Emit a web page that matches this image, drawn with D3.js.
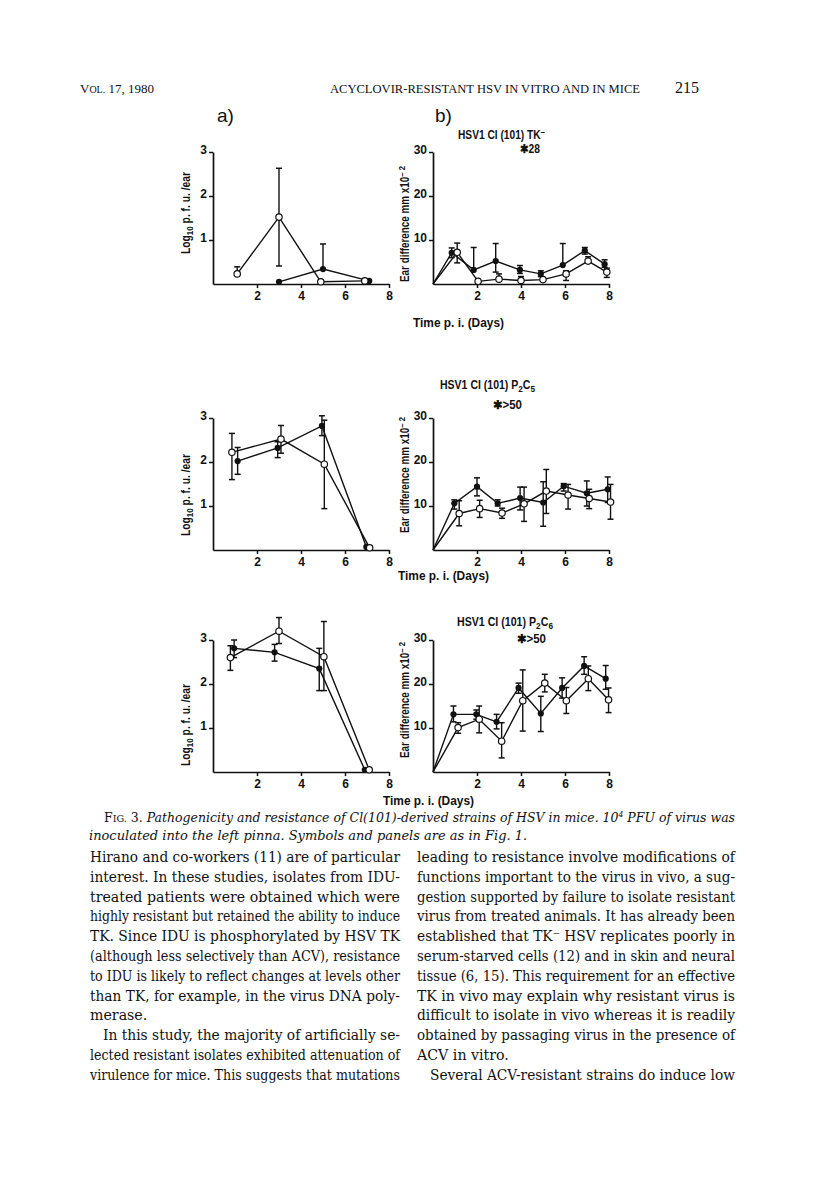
<!DOCTYPE html>
<html>
<head>
<meta charset="utf-8">
<script src="https://cdn.jsdelivr.net/npm/d3@7/dist/d3.min.js"></script>
<style>
  body { margin: 0; background: #fff; }
  svg { display: block; }
  .chart text { font-family: "Liberation Sans", Arial, sans-serif; font-weight: bold; fill: #111; }
  .serif { font-family: "DejaVu Serif", "Liberation Serif", serif; fill: #111; }
  .times { font-family: "Liberation Serif", "DejaVu Serif", serif; fill: #111; }
</style>
</head>
<body>
<div id="page"></div>
<script>
// tick labels
const dayTicks = [2, 4, 6, 8];
const logTicks = [1, 2, 3];
const earTicks = [10, 20, 30];

// [day, value, lower error, upper error]  (null = no whisker)
// a) virus titre, log10 p.f.u./ear
const a1Open   = [[1.1, 0.23, null, 0.39], [3.0, 1.52, 0.41, 2.63], [4.9, 0.05, null, null], [6.9, 0.07, null, null]];
const a1Filled = [[3.0, 0.05, null, null], [5.0, 0.34, null, 0.91], [7.1, 0.07, null, null]];
const a2Open   = [[0.86, 2.22, 1.6, 2.65], [3.09, 2.52, 2.2, 2.83], [5.06, 1.95, 0.94, 2.95], [7.12, 0.05, null, null]];
const a2Filled = [[1.12, 2.02, 1.72, 2.33], [2.94, 2.32, 2.1, 2.46], [4.95, 2.82, 2.6, 3.05], [6.97, 0.07, null, null]];
const a3Open   = [[0.79, 2.6, 2.31, 2.87], [3.0, 3.2, 2.92, 3.51], [5.04, 2.62, 1.85, 3.42], [7.1, 0.05, null, null]];
const a3Filled = [[0.96, 2.81, 2.6, 3.0], [2.8, 2.72, 2.52, 2.9], [4.83, 2.35, 1.85, 2.81], [6.9, 0.05, null, null]];

// b) ear difference, mm x 10^-2
const b1Filled = [[0, 0, null, null], [0.85, 7.1, 6.0, 8.2], [1.85, 3.2, null, 8.3], [2.85, 5.2, 2.7, 9.2], [3.95, 3.2, 2.4, 4.2],
                  [4.9, 2.3, 1.7, 3.0], [5.9, 4.3, null, 9.2], [6.9, 7.6, 6.8, 8.3], [7.8, 4.5, 3.8, 5.5]];
const b1Open   = [[0, 0, null, null], [1.1, 7.2, 4.8, 9.3], [2.05, 0.6, null, null], [3.0, 1.1, null, 2.3], [4.0, 0.8, null, 1.7],
                  [5.0, 1.0, null, null], [6.05, 2.3, 0.8, 3.0], [7.05, 5.2, null, 6.2], [7.9, 2.7, 1.5, 3.6]];
const b2Filled = [[0, 0, null, null], [0.97, 10.6, 9.3, 11.4], [2.0, 14.4, 12.3, 16.4], [2.94, 10.6, 10, 11.4], [3.96, 11.8, 9.1, 14.3],
                  [5.01, 10.8, 5.4, 15.5], [5.94, 14.5, 13.4, 15.1], [6.99, 12.9, 10, 15.7], [7.94, 13.8, 10.8, 16.6]];
const b2Open   = [[0, 0, null, null], [1.19, 8.3, 5.5, 11.2], [2.12, 9.4, 7.4, 11.3], [3.14, 8.4, 7.2, 9.5], [4.14, 10.5, 6.5, 14.3],
                  [5.15, 13.4, 8.3, 18.3], [6.14, 12.5, 9.3, 14.9], [7.1, 11.7, 9.4, 13.8], [8.07, 10.9, 7, 14.9]];
const b3Filled = [[0, 0, null, null], [0.93, 13.1, 11.4, 15], [1.97, 13.1, 12, 14.1], [2.89, 11.4, 9.8, 13.1], [3.89, 19.1, 17.9, 20.2],
                  [4.9, 13.3, 9.2, 17.2], [5.87, 19.1, 16.8, 21.4], [6.87, 24.1, 22.2, 26.2], [7.85, 21.2, 18.8, 24.2]];
const b3Open   = [[0, 0, null, null], [1.14, 10.1, 8.8, 11.2], [2.1, 12, 8.9, 15], [3.12, 7, 3.2, 11.2], [4.08, 16.2, 9.3, 23.2],
                  [5.08, 20.2, 18.2, 22.2], [6.06, 16.2, 13.3, 19.2], [7.06, 21.2, 18.5, 24.1], [7.98, 16.4, 13.5, 19.1]];

// strain titles and mortality notes ([text, 0 normal / 1 subscript / -1 superscript])
const strainTitles = [
  [["HSV1 CI (101) TK", 0], ["\u2013", -1]],
  [["HSV1 CI (101) P", 0], ["2", 1], ["C", 0], ["5", 1]],
  [["HSV1 CI (101) P", 0], ["2", 1], ["C", 0], ["6", 1]]
];
const mortality = ["28", ">50", ">50"];

const width = 816, height = 1204;
const svg = d3.select("#page").append("svg").attr("width", width).attr("height", height);
const chart = svg.append("g").attr("class", "chart");

const pw = 176, ph = 132;
const rowBase = [284, 550, 772];
const colA = 213, colB = 433;

// per row: title, mortality note and time label placement
const rowLayout = [
  { tx: 458, ty: 139, tw: 87, sx: 520, sy: 153, sw: 20, timeX: 413, timeY: 327 },
  { tx: 440, ty: 389, tw: 95, sx: 493, sy: 409, sw: 29, timeX: 398, timeY: 580 },
  { tx: 457, ty: 626, tw: 96, sx: 517, sy: 643, sw: 29, timeX: 383, timeY: 805 }
];

// sub/superscripts: shift carried over to the next tspan so no empty tspans are needed
function addScripted(t, parts, size) {
  let back = 0;
  parts.forEach(([s, k]) => {
    const shift = k === 1 ? 3 : k === -1 ? -4 : 0;
    t.append("tspan").text(s).attr("font-size", k ? size * 0.78 : size).attr("dy", back + shift);
    back = -shift;
  });
}

function drawPanel(g, x0, y0, yMax, yTicks, filled, open, yLabel, labelX, labelMidY, labelW) {
  const x = d3.scaleLinear([0, 8], [x0, x0 + pw]);
  const y = d3.scaleLinear([0, yMax], [y0, y0 - ph]);

  const xAxis = g.append("g")
    .attr("transform", `translate(0,${y0})`)
    .call(d3.axisBottom(x).tickValues(dayTicks).tickSize(4).tickSizeOuter(0).tickPadding(3).tickFormat(d3.format("d")));
  const yAxis = g.append("g")
    .attr("transform", `translate(${x0},0)`)
    .call(d3.axisLeft(y).tickValues(yTicks).tickSize(4).tickSizeOuter(0).tickPadding(2).tickFormat(d3.format("d")));
  [xAxis, yAxis].forEach(ax => {
    ax.select(".domain").attr("stroke", "#111").attr("stroke-width", 1.7);
    ax.selectAll(".tick line").attr("stroke", "#111").attr("stroke-width", 1.5);
    ax.selectAll(".tick text").attr("font-size", 12).attr("fill", "#111");
  });
  yAxis.selectAll(".tick text").attr("dy", "0.1em");

  // y label
  const lab = g.append("text")
    .attr("transform", `translate(${labelX},${labelMidY}) rotate(-90)`)
    .attr("text-anchor", "middle").attr("font-size", 12)
    .attr("textLength", labelW).attr("lengthAdjust", "spacingAndGlyphs");
  addScripted(lab, yLabel, 12);

  const line = d3.line().x(d => x(d[0])).y(d => y(d[1]));
  [filled, open].forEach(s => {
    g.append("path").attr("d", line(s)).attr("fill", "none").attr("stroke", "#111").attr("stroke-width", 1.4);
  });

  [filled, open].forEach(s => {
    s.filter(d => d[2] !== null || d[3] !== null).forEach(d => {
      const lo = d[2] === null ? d[1] : d[2];
      const hi = d[3] === null ? d[1] : d[3];
      g.append("line").attr("x1", x(d[0])).attr("x2", x(d[0])).attr("y1", y(lo)).attr("y2", y(hi))
        .attr("stroke", "#111").attr("stroke-width", 1.4);
      [d[2], d[3]].filter(v => v !== null).forEach(v => {
        g.append("line").attr("x1", x(d[0]) - 3).attr("x2", x(d[0]) + 3).attr("y1", y(v)).attr("y2", y(v))
          .attr("stroke", "#111").attr("stroke-width", 1.5);
      });
    });
  });

  g.selectAll(null).data(filled.filter(d => d[0] > 0)).join("circle")
    .attr("cx", d => x(d[0])).attr("cy", d => y(d[1])).attr("r", 3.1).attr("fill", "#111");
  g.selectAll(null).data(open.filter(d => d[0] > 0)).join("circle")
    .attr("cx", d => x(d[0])).attr("cy", d => y(d[1])).attr("r", 3.2)
    .attr("fill", "#fff").attr("stroke", "#111").attr("stroke-width", 1.2);
}

const logLabel = [["Log", 0], ["10", 1], [" p. f. u. /ear", 0]];
const earLabel = [["Ear difference mm x10", 0], ["\u2013 2", -1]];

const aSeries = [[a1Filled, a1Open], [a2Filled, a2Open], [a3Filled, a3Open]];
const bSeries = [[b1Filled, b1Open], [b2Filled, b2Open], [b3Filled, b3Open]];
const aLabelMid = [213, 495, 725];
const bLabelMid = [224, 475, 700];

rowBase.forEach((y0, i) => {
  drawPanel(chart.append("g"), colA, y0, 3, logTicks, aSeries[i][0], aSeries[i][1], logLabel, 190, aLabelMid[i], 82);
  drawPanel(chart.append("g"), colB, y0, 30, earTicks, bSeries[i][0], bSeries[i][1], earLabel, 409, bLabelMid[i], 116);

  const L = rowLayout[i];
  const t = chart.append("text").attr("x", L.tx).attr("y", L.ty).attr("font-size", 12)
    .attr("textLength", L.tw).attr("lengthAdjust", "spacingAndGlyphs");
  addScripted(t, strainTitles[i], 12);
  chart.append("text").attr("x", L.sx).attr("y", L.sy).attr("font-size", 12)
    .attr("textLength", L.sw).attr("lengthAdjust", "spacingAndGlyphs")
    .text("\u2731" + mortality[i]);
  chart.append("text").attr("x", L.timeX).attr("y", L.timeY).attr("font-size", 12)
    .attr("textLength", 91).attr("lengthAdjust", "spacingAndGlyphs").text("Time p. i. (Days)");
});

chart.append("text").attr("x", 217).attr("y", 122).attr("font-size", 19).style("font-weight", "normal").text("a)");
chart.append("text").attr("x", 435).attr("y", 122).attr("font-size", 19).style("font-weight", "normal").text("b)");

// ---------- page text ----------
const head = svg.append("text").attr("class", "times").attr("x", 80).attr("y", 93).attr("font-size", 13);
head.append("tspan").text("V");
head.append("tspan").text("OL.").attr("font-size", 10);
head.append("tspan").text(" 17, 1980");
svg.append("text").attr("class", "times").attr("x", 330).attr("y", 93).attr("font-size", 13)
  .attr("textLength", 310).attr("lengthAdjust", "spacingAndGlyphs").text("ACYCLOVIR-RESISTANT HSV IN VITRO AND IN MICE");
svg.append("text").attr("class", "times").attr("x", 675).attr("y", 93).attr("font-size", 16).text("215");

function justify(t, target) {
  const n = t.node();
  const w = n.getComputedTextLength();
  const spaces = (n.textContent.match(/ /g) || []).length;
  if (w > target) t.attr("textLength", target).attr("lengthAdjust", "spacingAndGlyphs");
  else if (spaces) t.attr("word-spacing", (target - w) / spaces);
}

// caption
const cap1 = svg.append("text").attr("class", "serif").attr("x", 104).attr("y", 822).attr("font-size", 13);
cap1.append("tspan").text("F");
cap1.append("tspan").text("IG.").attr("font-size", 10);
cap1.append("tspan").text(" 3. ");
cap1.append("tspan").attr("font-style", "italic").text("Pathogenicity and resistance of Cl(101)-derived strains of HSV in mice. 10");
cap1.append("tspan").attr("font-style", "italic").attr("font-size", 8).attr("dy", -5).text("4");
cap1.append("tspan").attr("font-style", "italic").attr("dy", 5).text(" PFU of virus was");
justify(cap1, 735 - 104);
svg.append("text").attr("class", "serif").attr("x", 89).attr("y", 840).attr("font-size", 13).attr("font-style", "italic")
  .text("inoculated into the left pinna. Symbols and panels are as in Fig. 1.");

const leftCol = [
  ["Hirano and co-workers (11) are of particular", true, 0],
  ["interest. In these studies, isolates from IDU-", true, 0],
  ["treated patients were obtained which were", true, 0],
  ["highly resistant but retained the ability to induce", true, 0],
  ["TK. Since IDU is phosphorylated by HSV TK", true, 0],
  ["(although less selectively than ACV), resistance", true, 0],
  ["to IDU is likely to reflect changes at levels other", true, 0],
  ["than TK, for example, in the virus DNA poly-", true, 0],
  ["merase.", false, 0],
  ["In this study, the majority of artificially se-", true, 13],
  ["lected resistant isolates exhibited attenuation of", true, 0],
  ["virulence for mice. This suggests that mutations", true, 0]
];
const rightCol = [
  ["leading to resistance involve modifications of", true, 0],
  ["functions important to the virus in vivo, a sug-", true, 0],
  ["gestion supported by failure to isolate resistant", true, 0],
  ["virus from treated animals. It has already been", true, 0],
  ["established that TK\u207b HSV replicates poorly in", true, 0],
  ["serum-starved cells (12) and in skin and neural", true, 0],
  ["tissue (6, 15). This requirement for an effective", true, 0],
  ["TK in vivo may explain why resistant virus is", true, 0],
  ["difficult to isolate in vivo whereas it is readily", true, 0],
  ["obtained by passaging virus in the presence of", true, 0],
  ["ACV in vitro.", false, 0],
  ["Several ACV-resistant strains do induce low", true, 13]
];

function column(lines, x0, w) {
  lines.forEach(([s, just, indent], i) => {
    const t = svg.append("text").attr("class", "serif").attr("x", x0 + indent).attr("y", 862 + i * 19.8)
      .attr("font-size", 14.2).text(s);
    if (just) justify(t, w - indent);
  });
}
column(leftCol, 90, 310);
column(rightCol, 417, 318);
</script>
</body>
</html>
